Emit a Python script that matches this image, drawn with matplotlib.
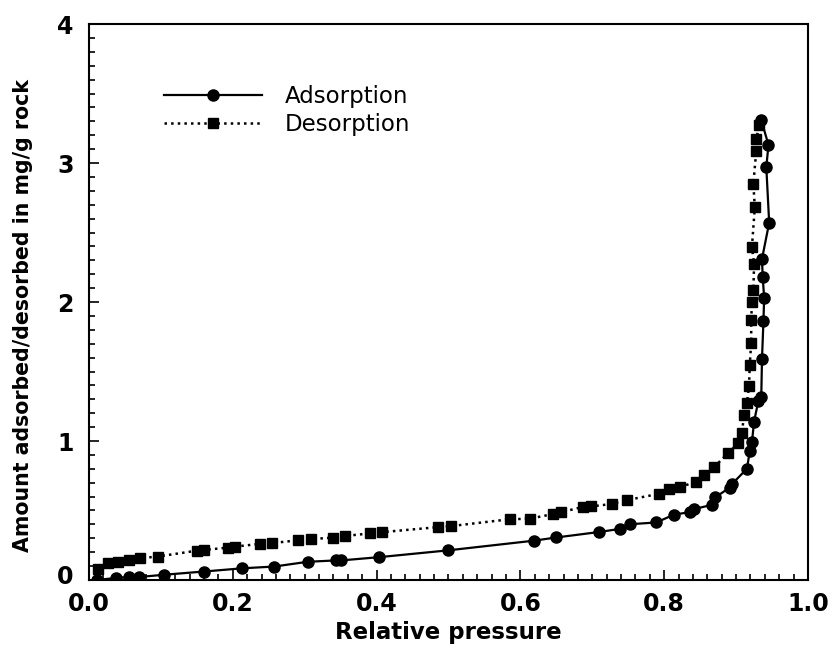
import matplotlib
matplotlib.use("Agg")
import matplotlib.pyplot as plt
from matplotlib.ticker import MultipleLocator
from matplotlib.transforms import ScaledTranslation

plt.rcParams['font.family'] = ['DejaVu Sans']

# Adsorption branch (relative pressure, mg/g rock)
ads_p = [0.011, 0.038, 0.055, 0.069, 0.105, 0.160, 0.213, 0.258, 0.304, 0.344,
         0.351, 0.403, 0.499, 0.619, 0.650, 0.709, 0.739, 0.752, 0.789, 0.814,
         0.836, 0.842, 0.866, 0.871, 0.891, 0.894, 0.915, 0.919, 0.922, 0.925,
         0.931, 0.935, 0.936, 0.938, 0.939, 0.937, 0.936, 0.946, 0.942, 0.945,
         0.935]
ads_q = [0.0, 0.015, 0.022, 0.021, 0.038, 0.061, 0.084, 0.097, 0.131, 0.141,
         0.141, 0.164, 0.213, 0.283, 0.306, 0.345, 0.368, 0.401, 0.414, 0.471,
         0.488, 0.511, 0.540, 0.594, 0.665, 0.689, 0.80, 0.925, 0.99, 1.14,
         1.29, 1.32, 1.59, 1.86, 2.03, 2.18, 2.31, 2.57, 2.97, 3.13,
         3.31]

# Desorption branch
des_p = [0.013, 0.027, 0.041, 0.055, 0.071, 0.096, 0.150, 0.160, 0.193, 0.203,
         0.238, 0.254, 0.291, 0.309, 0.339, 0.356, 0.391, 0.407, 0.485, 0.504,
         0.585, 0.613, 0.645, 0.657, 0.687, 0.698, 0.727, 0.748, 0.793, 0.807,
         0.822, 0.844, 0.856, 0.869, 0.889, 0.903, 0.908, 0.911, 0.915, 0.918,
         0.919, 0.921, 0.921, 0.922, 0.924, 0.925, 0.922, 0.926, 0.924, 0.928,
         0.928, 0.932]
des_q = [0.077, 0.119, 0.130, 0.146, 0.157, 0.169, 0.211, 0.216, 0.233, 0.240,
         0.260, 0.265, 0.286, 0.294, 0.305, 0.317, 0.335, 0.344, 0.380, 0.388,
         0.437, 0.441, 0.474, 0.488, 0.526, 0.529, 0.547, 0.575, 0.620, 0.658,
         0.669, 0.705, 0.752, 0.810, 0.914, 0.983, 1.055, 1.186, 1.273, 1.396,
         1.548, 1.708, 1.867, 1.998, 2.085, 2.273, 2.397, 2.680, 2.850, 3.086,
         3.170, 3.270]

x_ticks = [0.0, 0.2, 0.4, 0.6, 0.8, 1.0]
x_labels = ["0.0", "0.2", "0.4", "0.6", "0.8", "1.0"]
y_ticks = [0, 1, 2, 3, 4]
y_labels = ["0", "1", "2", "3", "4"]

fig = plt.figure(figsize=(8.33, 6.53), dpi=100)
ax = fig.add_axes([0.1068, 0.1118, 0.8632, 0.8514])

ax.plot(ads_p, ads_q, '-', color='black', lw=1.6, marker='o', ms=8,
        label='Adsorption')
ax.plot(des_p, des_q, ':', color='black', lw=1.8, marker='s', ms=6.8,
        label='Desorption')

ax.set_xlim(0, 1.0)
ax.set_ylim(0, 4)
ax.set_xticks(x_ticks)
ax.set_xticklabels(x_labels)
ax.set_yticks(y_ticks)
ax.set_yticklabels(y_labels)
ax.xaxis.set_minor_locator(MultipleLocator(0.02))
ax.yaxis.set_minor_locator(MultipleLocator(0.1))

ax.tick_params(which='both', direction='in', top=False, right=False,
               width=1.2, colors='black')
ax.tick_params(which='major', length=7, labelsize=17)
ax.tick_params(axis='x', which='major', pad=9)
ax.tick_params(axis='y', which='major', pad=11)
ax.tick_params(which='minor', length=4)
for lab in ax.get_xticklabels() + ax.get_yticklabels():
    lab.set_fontweight('bold')

# lift the "0" on the y axis so it clears the x tick labels
zero_lab = ax.get_yticklabels()[0]
zero_lab.set_transform(zero_lab.get_transform()
                       + ScaledTranslation(0, 5 / 100, fig.dpi_scale_trans))

for sp in ax.spines.values():
    sp.set_linewidth(1.5)
    sp.set_color('black')

ax.set_xlabel('Relative pressure', fontsize=16.5, fontweight='bold', labelpad=3)
ax.set_ylabel('Amount adsorbed/desorbed in mg/g rock', fontsize=14.8,
              fontweight='bold')
ax.yaxis.set_label_coords(-0.078, 0.475)

ax.legend(loc='upper left', bbox_to_anchor=(0.075, 0.928), frameon=False,
          fontsize=16.5, handlelength=4.3, handletextpad=1.0, labelspacing=0.22)

fig.savefig('out.png', dpi=100)
